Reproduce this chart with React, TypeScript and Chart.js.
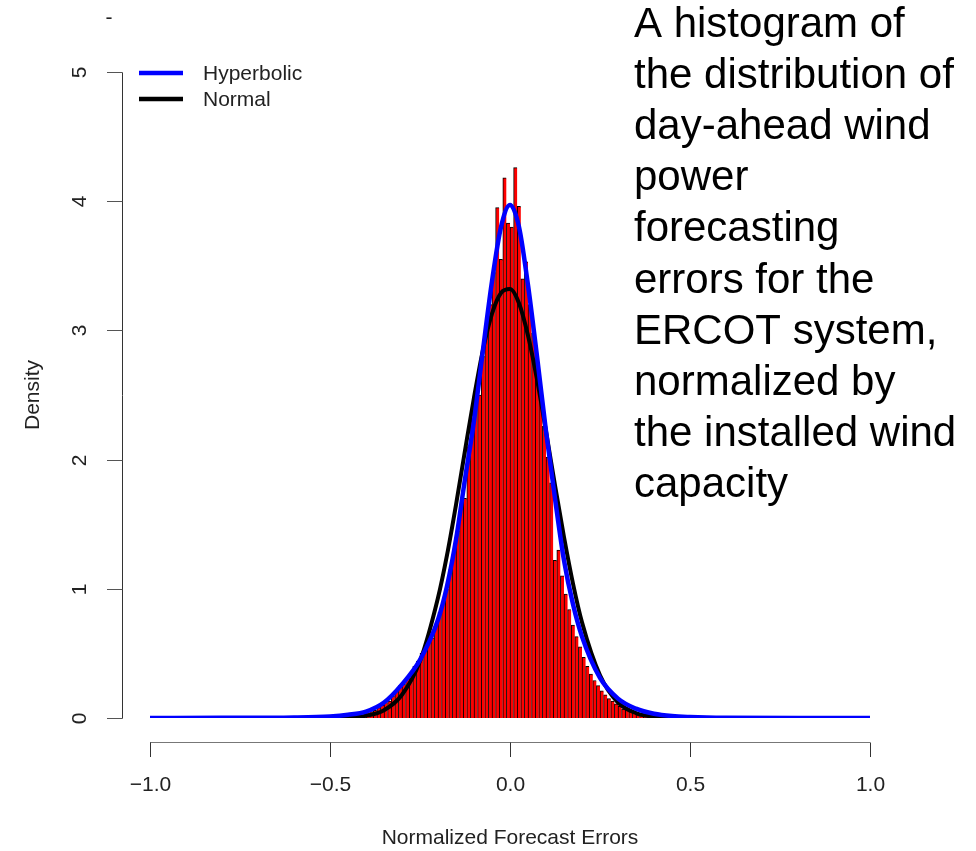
import React, { useEffect, useRef } from "react";
import { Chart, registerables } from "chart.js";

Chart.register(...registerables);

// Histogram bins (centre of each 0.01-wide bin) and their densities
const binCenters = [
  -0.395, -0.385, -0.375, -0.365, -0.355, -0.345, -0.335, -0.325, -0.315, -0.305,
  -0.295, -0.285, -0.275, -0.265, -0.255, -0.245, -0.235, -0.225, -0.215, -0.205,
  -0.195, -0.185, -0.175, -0.165, -0.155, -0.145, -0.135, -0.125, -0.115, -0.105,
  -0.095, -0.085, -0.075, -0.065, -0.055, -0.045, -0.035, -0.025, -0.015, -0.005,
  0.005, 0.015, 0.025, 0.035, 0.045, 0.055, 0.065, 0.075, 0.085, 0.095,
  0.105, 0.115, 0.125, 0.135, 0.145, 0.155, 0.165, 0.175, 0.185, 0.195,
  0.205, 0.215, 0.225, 0.235, 0.245, 0.255, 0.265, 0.275, 0.285, 0.295,
  0.305, 0.315, 0.325, 0.335, 0.345, 0.355, 0.365, 0.375, 0.385, 0.395,
];
const binDensity = [
  0.04, 0.05, 0.06, 0.08, 0.1, 0.12, 0.13, 0.17, 0.21, 0.25,
  0.26, 0.31, 0.33, 0.4, 0.44, 0.5, 0.55, 0.64, 0.62, 0.72,
  0.82, 0.9, 1.0, 1.15, 1.3, 1.45, 1.62, 1.7, 2.1, 2.3,
  2.42, 2.5, 2.8, 3.0, 3.2, 3.45, 3.95, 3.55, 4.18, 3.83,
  3.8, 4.26, 3.96, 3.4, 3.53, 3.2, 2.98, 2.78, 2.52, 2.26,
  2.02, 1.82, 1.22, 1.3, 1.1, 0.96, 0.84, 0.72, 0.63, 0.55,
  0.47, 0.4, 0.34, 0.29, 0.25, 0.21, 0.18, 0.15, 0.13, 0.11,
  0.09, 0.07, 0.06, 0.05, 0.04, 0.04, 0.03, 0.02, 0.02, 0.01,
];

// Fitted density curves
const curveX = [
  -1.0, -0.8, -0.6, -0.5, -0.45, -0.4, -0.35, -0.3, -0.25, -0.2, -0.175, -0.15,
  -0.125, -0.1, -0.075, -0.05, -0.025, 0, 0.025, 0.05, 0.075, 0.1, 0.125, 0.15,
  0.175, 0.2, 0.25, 0.3, 0.35, 0.4, 0.45, 0.5, 0.6, 0.8, 1.0,
];
const hyperbolicY = [
  0, 0.001, 0.004, 0.012, 0.025, 0.05, 0.12, 0.26, 0.45, 0.76, 1.02, 1.38,
  1.85, 2.3, 2.85, 3.38, 3.8, 3.97, 3.8, 3.35, 2.8, 2.22, 1.7, 1.22,
  0.88, 0.63, 0.31, 0.15, 0.072, 0.033, 0.015, 0.008, 0.002, 0, 0,
];
const normalY = [
  0, 0, 0, 0.001, 0.004, 0.017, 0.06, 0.18, 0.44, 0.93, 1.26, 1.65,
  2.07, 2.48, 2.85, 3.13, 3.29, 3.32, 3.21, 2.96, 2.62, 2.22, 1.8, 1.4,
  1.04, 0.74, 0.33, 0.12, 0.038, 0.01, 0.002, 0.0004, 0, 0, 0,
];

const xTicks = [-1.0, -0.5, 0.0, 0.5, 1.0];
const xTickLabels = ["\u22121.0", "\u22120.5", "0.0", "0.5", "1.0"];
const yTicks = [0, 1, 2, 3, 4, 5];
const yTickLabels = ["0", "1", "2", "3", "4", "5"];

const legendLabels = ["Hyperbolic", "Normal"];
const legendColors = ["#0000ff", "#000000"];
const xTitle = "Normalized Forecast Errors";
const yTitle = "Density";
const captionLines = [
  "A histogram of",
  "the distribution of",
  "day-ahead wind",
  "power",
  "forecasting",
  "errors for the",
  "ERCOT system,",
  "normalized by",
  "the installed wind",
  "capacity",
];

const FONT = '"Liberation Sans", Arial, Helvetica, sans-serif';

const decorPlugin = {
  id: "decor",
  afterDraw(chart: any) {
    const ctx = chart.ctx as CanvasRenderingContext2D;
    const xs = chart.scales.x;
    const ys = chart.scales.y;
    ctx.save();

    // y axis
    const yAxisX = 122.5;
    ctx.strokeStyle = "#333";
    ctx.lineWidth = 1;
    ctx.beginPath();
    ctx.moveTo(yAxisX, Math.round(ys.getPixelForValue(yTicks[0])) + 0.5);
    ctx.lineTo(yAxisX, Math.round(ys.getPixelForValue(yTicks[yTicks.length - 1])) + 0.5);
    ctx.stroke();
    ctx.font = `21px ${FONT}`;
    ctx.fillStyle = "#222";
    yTicks.forEach((v, i) => {
      const py = Math.round(ys.getPixelForValue(v)) + 0.5;
      ctx.strokeStyle = "#555";
      ctx.beginPath();
      ctx.moveTo(107, py);
      ctx.lineTo(yAxisX, py);
      ctx.stroke();
      ctx.save();
      ctx.translate(80, py);
      ctx.rotate(-Math.PI / 2);
      ctx.textAlign = "center";
      ctx.textBaseline = "middle";
      ctx.fillText(yTickLabels[i], 0, 0);
      ctx.restore();
    });

    // x axis
    const xAxisY = 742.5;
    ctx.strokeStyle = "#777";
    ctx.beginPath();
    ctx.moveTo(xs.getPixelForValue(xTicks[0]), xAxisY);
    ctx.lineTo(xs.getPixelForValue(xTicks[xTicks.length - 1]), xAxisY);
    ctx.stroke();
    ctx.textAlign = "center";
    ctx.textBaseline = "middle";
    xTicks.forEach((v, i) => {
      const px = Math.round(xs.getPixelForValue(v)) + 0.5;
      ctx.strokeStyle = "#333";
      ctx.beginPath();
      ctx.moveTo(px, xAxisY);
      ctx.lineTo(px, 757);
      ctx.stroke();
      ctx.fillText(xTickLabels[i], px, 785);
    });

    // axis titles
    ctx.fillText(xTitle, (xs.left + xs.right) / 2, 838);
    ctx.save();
    ctx.translate(33, 395);
    ctx.rotate(-Math.PI / 2);
    ctx.fillText(yTitle, 0, 0);
    ctx.restore();

    // stray mark at top
    ctx.fillText("-", 109, 18);

    // legend
    legendLabels.forEach((lab, i) => {
      const ly = 73 + i * 26;
      ctx.strokeStyle = legendColors[i];
      ctx.lineWidth = 4.5;
      ctx.beginPath();
      ctx.moveTo(139, ly);
      ctx.lineTo(183, ly);
      ctx.stroke();
      ctx.textAlign = "left";
      ctx.fillStyle = "#222";
      ctx.font = `21px ${FONT}`;
      ctx.fillText(lab, 203, ly + 1);
    });

    // caption
    ctx.fillStyle = "#000";
    ctx.font = `42px ${FONT}`;
    ctx.textAlign = "left";
    ctx.textBaseline = "alphabetic";
    captionLines.forEach((line, i) => {
      ctx.fillText(line, 634, 37 + i * 51.1);
    });

    ctx.restore();
  },
};

export default function App() {
  const canvasRef = useRef<HTMLCanvasElement | null>(null);

  useEffect(() => {
    const canvas = canvasRef.current;
    if (!canvas) return;
    const chart = new Chart(canvas, {
      type: "bar",
      data: {
        datasets: [
          {
            type: "line",
            label: legendLabels[0],
            data: curveX.map((x, i) => ({ x, y: hyperbolicY[i] })),
            borderColor: "#0000ff",
            borderWidth: 4.5,
            pointRadius: 0,
            cubicInterpolationMode: "monotone",
            fill: false,
            order: 0,
          } as any,
          {
            type: "line",
            label: legendLabels[1],
            data: curveX.map((x, i) => ({ x, y: normalY[i] })),
            borderColor: "#000000",
            borderWidth: 4,
            pointRadius: 0,
            cubicInterpolationMode: "monotone",
            fill: false,
            order: 1,
          } as any,
          {
            type: "bar",
            label: "Histogram",
            data: binCenters.map((x, i) => ({ x, y: binDensity[i] })),
            backgroundColor: "#ff0000",
            borderColor: "#000000",
            borderWidth: { left: 1, top: 1, right: 0, bottom: 0 },
            borderSkipped: false,
            barPercentage: 1,
            categoryPercentage: 1,
            order: 2,
          } as any,
        ],
      },
      options: {
        responsive: false,
        animation: false,
        events: [],
        layout: { padding: { left: 150, right: 106, top: 72, bottom: 133 } },
        plugins: {
          legend: { display: false },
          tooltip: { enabled: false },
          title: { display: false },
        },
        scales: {
          x: { type: "linear", min: -1, max: 1, offset: false, display: false },
          y: { type: "linear", min: 0, max: 5, display: false },
        },
      },
      plugins: [decorPlugin],
    });
    return () => chart.destroy();
  }, []);

  return (
    <div style={{ position: "absolute", left: 0, top: 0, width: 976, height: 851, background: "#fff" }}>
      <canvas ref={canvasRef} width={976} height={851} style={{ display: "block" }} />
    </div>
  );
}
